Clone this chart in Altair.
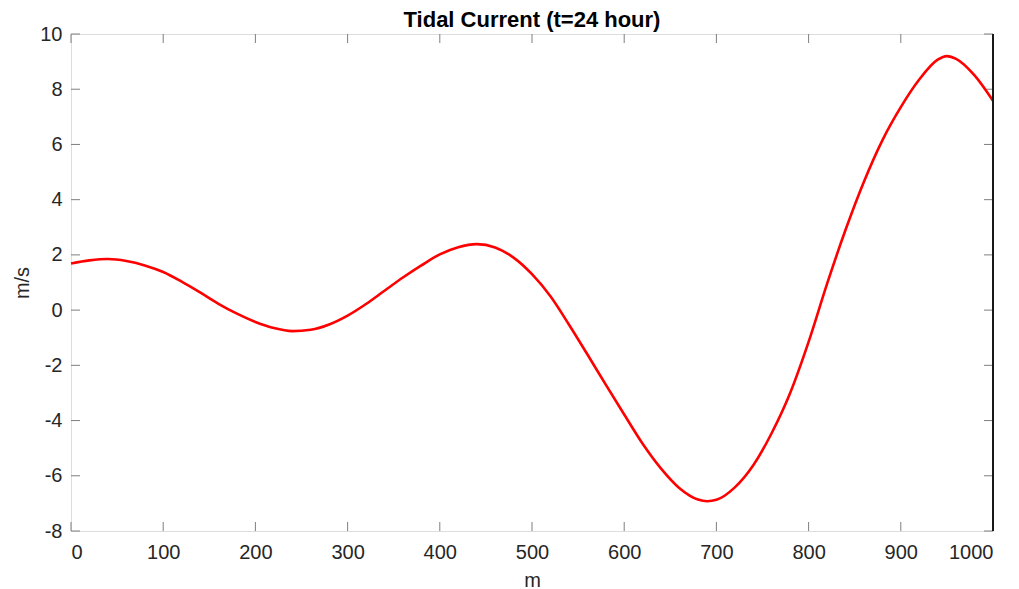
import altair as alt
import pandas as pd

# Data
xs = [0, 20, 40, 60, 80, 100, 120, 140, 160, 180, 200, 220, 240, 260, 280, 300,
      320, 340, 360, 380, 400, 420, 440, 460, 480, 500, 520, 540, 560, 580, 600,
      620, 640, 660, 680, 690, 700, 720, 740, 760, 780, 800, 820, 840, 860, 880,
      900, 920, 940, 950, 960, 980, 1000]
ys = [1.69, 1.80, 1.85, 1.78, 1.62, 1.38, 1.03, 0.64, 0.23, -0.13, -0.43, -0.65,
      -0.76, -0.71, -0.52, -0.20, 0.22, 0.70, 1.18, 1.62, 2.02, 2.28, 2.39, 2.27,
      1.90, 1.30, 0.50, -0.52, -1.60, -2.70, -3.78, -4.84, -5.74, -6.45, -6.86,
      -6.92, -6.87, -6.42, -5.62, -4.45, -3.00, -1.15, 0.95, 2.90, 4.65, 6.15,
      7.35, 8.35, 9.07, 9.20, 9.10, 8.50, 7.58]
x_ticks = [0, 100, 200, 300, 400, 500, 600, 700, 800, 900, 1000]
y_ticks = [-8, -6, -4, -2, 0, 2, 4, 6, 8, 10]
title_text = ["Tidal Current (t=24 hour)"]

W, H = 922, 497
FONT = "Liberation Sans"
TICK_LEN = 9
TICK_COLOR = "#7f7f7f"

df = pd.DataFrame({"m": xs, "v": ys})
xt = pd.DataFrame({"t": x_ticks})
yt = pd.DataFrame({"t": y_ticks})
tt = pd.DataFrame({"label": title_text})

xscale = alt.Scale(domain=[0, 1000], nice=False, zero=False)
yscale = alt.Scale(domain=[-8, 10], nice=False, zero=False)

x_axis = alt.Axis(values=x_ticks, ticks=False, domain=False, grid=False,
                  labelExpr="datum.value + ''",
                  labelFont=FONT, labelFontSize=20, labelColor="#262626",
                  labelPadding=27, labelBaseline="alphabetic",
                  title="m", titleFont=FONT, titleFontSize=20,
                  titleFontWeight="normal", titleColor="#262626",
                  titleBaseline="alphabetic", titleY=55)
y_axis = alt.Axis(values=y_ticks, ticks=False, domain=False, grid=False,
                  labelExpr="datum.value + ''",
                  labelFont=FONT, labelFontSize=20, labelColor="#262626",
                  labelPadding=9, labelBaseline="middle",
                  title="m/s", titleFont=FONT, titleFontSize=20,
                  titleFontWeight="normal", titleColor="#262626",
                  titleBaseline="alphabetic", titleX=-43, titleY=H / 2,
                  titleAngle=270)

line = alt.Chart(df).mark_line(color="#ff0000", strokeWidth=2.6,
                               interpolate="monotone").encode(
    x=alt.X("m:Q", scale=xscale, axis=x_axis),
    y=alt.Y("v:Q", scale=yscale, axis=y_axis),
)

rule_kw = dict(color=TICK_COLOR, strokeWidth=1)
bottom_ticks = alt.Chart(xt).mark_rule(**rule_kw).encode(
    x=alt.X("t:Q", scale=xscale), y=alt.value(H), y2=alt.value(H - TICK_LEN))
top_ticks = alt.Chart(xt).mark_rule(**rule_kw).encode(
    x=alt.X("t:Q", scale=xscale), y=alt.value(0), y2=alt.value(TICK_LEN))
left_ticks = alt.Chart(yt).mark_rule(**rule_kw).encode(
    y=alt.Y("t:Q", scale=yscale), x=alt.value(0), x2=alt.value(TICK_LEN))
right_ticks = alt.Chart(yt).mark_rule(**rule_kw).encode(
    y=alt.Y("t:Q", scale=yscale), x=alt.value(W - TICK_LEN), x2=alt.value(W))

right_edge = alt.Chart(xt).mark_rule(color="#1a1a1a", strokeWidth=1.6).encode(
    x=alt.value(W), y=alt.value(0), y2=alt.value(H))

title = alt.Chart(tt).mark_text(font=FONT, fontSize=22, fontWeight="bold",
                                color="black", align="center",
                                baseline="alphabetic").encode(
    text="label:N", x=alt.value(W / 2), y=alt.value(-7))

chart = alt.layer(
    bottom_ticks, top_ticks, left_ticks, right_ticks, line, right_edge, title
).properties(
    width=W, height=H,
    autosize=alt.AutoSizeParams(type="none"),
    padding={"left": 63, "top": 26, "right": 18, "bottom": 58},
).configure_view(
    stroke="#a6a6a6", strokeWidth=1
).configure(background="white")

chart.save("out.html", embed_options={"renderer": "svg", "actions": False})
